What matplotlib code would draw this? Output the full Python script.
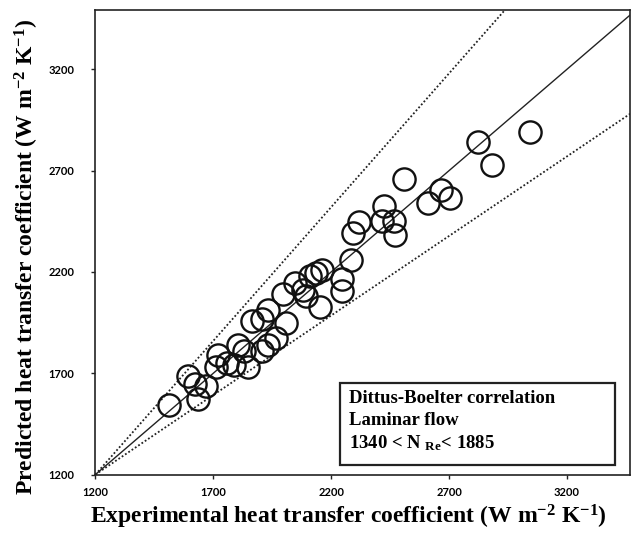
import numpy as np
import matplotlib
matplotlib.use("Agg")
import matplotlib.pyplot as plt
from matplotlib.patches import Rectangle

plt.rcParams['mathtext.fontset'] = 'custom'
plt.rcParams['mathtext.rm'] = 'Liberation Serif'
plt.rcParams['mathtext.bf'] = 'Liberation Serif:bold'
plt.rcParams['mathtext.it'] = 'Liberation Serif:italic'

# experimental vs predicted heat transfer coefficient (W m-2 K-1)
h_exp = [1510, 1592, 1622, 1667, 1637, 1720, 1713, 1758, 1787, 1806,
         1830, 1849, 1864, 1908, 1934, 1908, 1932, 1965, 2008, 1995,
         2046, 2080, 2093, 2112, 2137, 2163, 2154, 2248, 2245, 2284,
         2292, 2320, 2415, 2426, 2466, 2472, 2508, 2610, 2665, 2706,
         2822, 2884, 3045]
h_pred = [1541, 1684, 1645, 1635, 1573, 1790, 1731, 1751, 1743, 1837,
          1812, 1733, 1960, 1970, 2012, 1812, 1837, 1876, 1948, 2091,
          2145, 2113, 2079, 2180, 2195, 2212, 2029, 2163, 2106, 2259,
          2392, 2444, 2449, 2523, 2449, 2382, 2661, 2540, 2604, 2565,
          2843, 2730, 2893]

ticks = [1200, 1700, 2200, 2700, 3200]
x_max, y_max = 3468, 3492
upper_slope, lower_slope = 1.32, 0.785   # dotted deviation lines from the corner
box_lines = ['Dittus-Boelter correlation', 'Laminar flow',
             r'1340 < N $_{\mathbf{Re}}$< 1885']

fig = plt.figure(figsize=(6.32, 5.35), dpi=100)
ax = fig.add_axes([0.151, 0.113, 0.846, 0.868])

xx = np.array([1200, x_max])
ax.plot(xx, xx, color='#222222', lw=1.0, zorder=2)
ax.plot(xx, 1200 + upper_slope * (xx - 1200), color='#222222', lw=1.3, ls=(0, (1, 1.2)), zorder=2)
ax.plot(xx, 1200 + lower_slope * (xx - 1200), color='#222222', lw=1.3, ls=(0, (1, 1.2)), zorder=2)

ax.plot(h_exp, h_pred, 'o', ms=16, mfc='none', mec='#111111', mew=1.7, zorder=3)

ax.set_xlim(1200, x_max)
ax.set_ylim(1200, y_max)
ax.set_xticks(ticks)
ax.set_yticks(ticks)
ax.set_xticklabels([str(t) for t in ticks], fontfamily='Lato', fontweight='bold', fontsize=8)
ax.set_yticklabels([str(t) for t in ticks], fontfamily='Lato', fontweight='bold', fontsize=8)
ax.tick_params(direction='out', length=3, width=1, color='#222222', pad=6)
ax.tick_params(axis='y', pad=12)
for s in ax.spines.values():
    s.set_linewidth(1.2)
    s.set_color('#222222')

fig.text(0.552, 0.034, r'Experimental heat transfer coefficient (W m$^{\mathbf{-2}}$ K$^{\mathbf{-1}}$)',
         fontfamily='Liberation Serif', fontweight='bold', fontsize=17, ha='center', va='center')
fig.text(0.043, 0.519, r'Predicted heat transfer coefficient (W m$^{\mathbf{-2}}$ K$^{\mathbf{-1}}$)',
         fontfamily='Liberation Serif', fontweight='bold', fontsize=17, ha='center', va='center',
         rotation=90)

ax.add_patch(Rectangle((0.4575, 0.0207), 0.5143, 0.1765, transform=ax.transAxes,
                       fc='white', ec='#222222', lw=1.6, zorder=4))
for i, line in enumerate(box_lines):
    ax.text(0.474, 0.1628 - i * 0.0474, line, transform=ax.transAxes, ha='left', va='center',
            fontfamily='Liberation Serif', fontweight='bold', fontsize=13.5, zorder=5)

fig.savefig('out.png', dpi=100)
